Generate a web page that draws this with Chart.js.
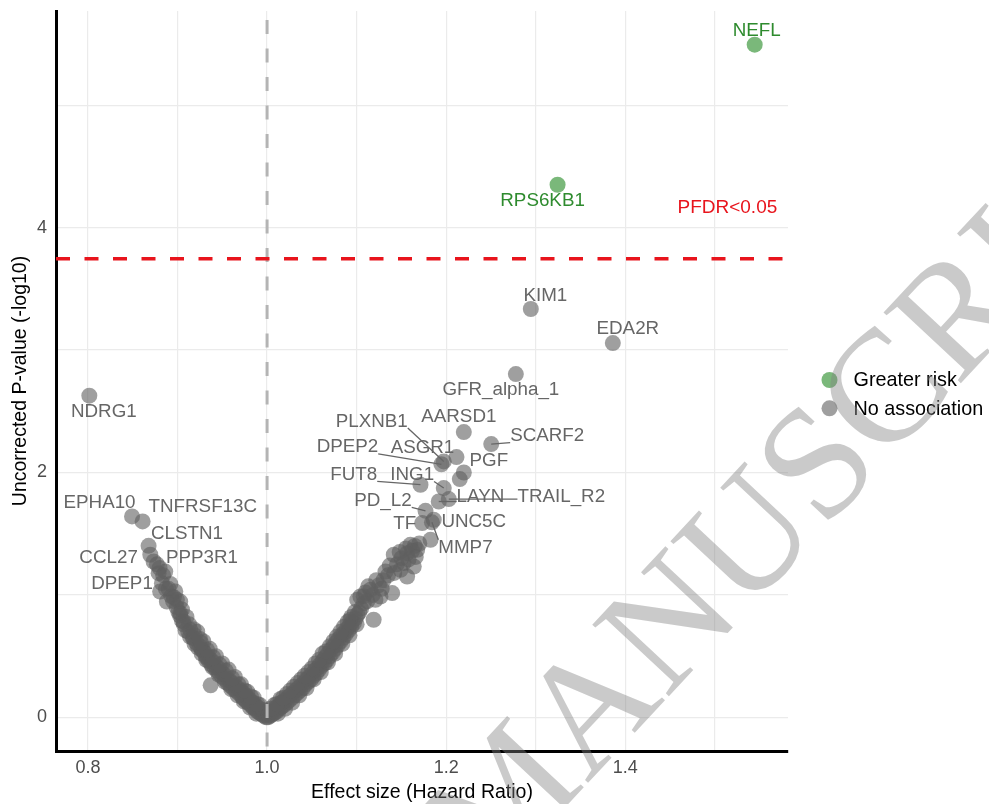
<!DOCTYPE html>
<html>
<head>
<meta charset="utf-8">
<script src="https://cdn.jsdelivr.net/npm/chart.js@4.4.1/dist/chart.umd.min.js"></script>
<style>
  html, body { margin: 0; padding: 0; background: #ffffff; }
  canvas { display: block; }
</style>
</head>
<body>
<canvas id="volcano" width="989" height="804"></canvas>
<script>
// ---- Proteins passing the FDR threshold (greater risk) ----
const riskGenes = ['NEFL', 'RPS6KB1'];
const riskHR    = [1.5445, 1.3244];
const riskLogP  = [5.494, 4.350];

// ---- Named proteins without a significant association ----
const namedGenes = ['KIM1', 'EDA2R', 'GFR_alpha_1', 'NDRG1', 'AARSD1', 'SCARF2', 'PLXNB1', 'DPEP2',
                    'ASGR1', 'PGF', 'FUT8', 'ING1', 'LAYN', 'TRAIL_R2', 'PD_L2', 'TF', 'UNC5C', 'MMP7',
                    'EPHA10', 'TNFRSF13C', 'CLSTN1', 'CCL27', 'PPP3R1', 'DPEP1'];
const namedHR    = [1.2945, 1.3861, 1.2778, 0.8015, 1.2197, 1.2503, 1.1973, 1.1947,
                    1.2115, 1.2197, 1.1713, 1.1973, 1.1917, 1.2029, 1.1769, 1.1732, 1.1861, 1.1841,
                    0.8492, 0.8610, 0.8677, 0.8696, 0.8733, 0.8789];
const namedLogP  = [3.335, 3.057, 2.804, 2.627, 2.330, 2.232, 2.090, 2.067,
                    2.126, 2.000, 1.900, 1.873, 1.763, 1.783, 1.687, 1.587, 1.614, 1.593,
                    1.641, 1.600, 1.401, 1.328, 1.273, 1.178];

// ---- Remaining (unlabelled) proteins: hazard ratio and -log10 p ----
const otherHR = [
  // lower-risk side
  0.999, 0.998, 0.997, 0.996, 0.995, 0.994, 0.993, 0.992, 0.991, 0.990,
  0.989, 0.988, 0.987, 0.986, 0.985, 0.984, 0.983, 0.982, 0.981, 0.980,
  0.979, 0.978, 0.977, 0.976, 0.975, 0.974, 0.973, 0.972, 0.971, 0.970,
  0.968, 0.967, 0.965, 0.964, 0.962, 0.961, 0.959, 0.958, 0.956, 0.955,
  0.953, 0.952, 0.950, 0.949, 0.947, 0.946, 0.944, 0.943, 0.941, 0.940,
  0.938, 0.937, 0.935, 0.934, 0.932, 0.930, 0.937, 0.928, 0.927, 0.925,
  0.923, 0.921, 0.919, 0.917, 0.914, 0.912, 0.909, 0.907, 0.905, 0.903,
  0.901, 0.899, 0.903, 0.8975, 0.895, 0.893, 0.8881, 0.890, 0.8863, 0.8806,
  0.8826, 0.8993, 0.9030, 0.9067, 0.9142, 0.9179, 0.9272, 0.9328, 0.877, 0.880,
  0.992, 0.985, 0.978, 0.971, 0.964, 0.957, 0.950, 0.943, 0.936, 0.929,
  0.922, 0.988, 0.981, 0.974, 0.967, 0.960, 0.953, 0.946, 0.939, 0.932,
  0.996, 0.989, 0.982, 0.975, 0.968, 0.961, 0.954, 0.947, 0.940, 0.933,
  0.926, 0.919, 0.884, 0.887, 0.892, 0.896, 0.905, 0.910, 0.913, 0.918,
  0.925,
  // higher-risk side
  1.001, 1.002, 1.003, 1.004, 1.005, 1.006, 1.007, 1.008, 1.009, 1.010,
  1.011, 1.012, 1.013, 1.014, 1.015, 1.016, 1.017, 1.018, 1.019, 1.020,
  1.022, 1.023, 1.025, 1.026, 1.028, 1.029, 1.031, 1.032, 1.034, 1.035,
  1.037, 1.038, 1.040, 1.041, 1.043, 1.044, 1.046, 1.047, 1.049, 1.050,
  1.052, 1.053, 1.055, 1.056, 1.058, 1.059, 1.061, 1.062, 1.064, 1.065,
  1.067, 1.068, 1.070, 1.071, 1.073, 1.074, 1.076, 1.077, 1.079, 1.080,
  1.082, 1.083, 1.085, 1.086, 1.088, 1.089, 1.091, 1.092, 1.094, 1.095,
  1.097, 1.099, 1.093, 1.101, 1.103, 1.119, 1.105, 1.1006, 1.1042, 1.108,
  1.112, 1.1154, 1.118, 1.121, 1.1266, 1.125, 1.130, 1.1397, 1.1322, 1.135,
  1.1415, 1.145, 1.149, 1.1564, 1.1526, 1.150, 1.1564, 1.1638, 1.155, 1.160,
  1.1676, 1.165, 1.170, 1.1825, 1.2152,
  1.008, 1.015, 1.022, 1.030, 1.038, 1.046, 1.054, 1.062, 1.070, 1.078,
  1.086, 1.094, 1.012, 1.020, 1.028, 1.036, 1.044, 1.052, 1.060, 1.068,
  1.076, 1.084, 1.092, 1.100,
  1.004, 1.011, 1.018, 1.026, 1.034, 1.042, 1.050, 1.058, 1.066, 1.074,
  1.082, 1.090, 1.098, 1.108, 1.113, 1.122, 1.128, 1.137, 1.142, 1.148,
  1.158, 1.162, 1.166, 1.110
];
const otherLogP = [
  // lower-risk side
  0.00, 0.02, 0.01, 0.04, 0.02, 0.05, 0.03, 0.06, 0.04, 0.08,
  0.05, 0.09, 0.07, 0.10, 0.08, 0.12, 0.09, 0.13, 0.11, 0.15,
  0.12, 0.16, 0.13, 0.18, 0.15, 0.19, 0.16, 0.21, 0.18, 0.22,
  0.20, 0.24, 0.22, 0.26, 0.24, 0.28, 0.26, 0.30, 0.28, 0.32,
  0.31, 0.35, 0.33, 0.37, 0.36, 0.40, 0.38, 0.42, 0.41, 0.45,
  0.43, 0.47, 0.46, 0.50, 0.49, 0.53, 0.262, 0.55, 0.52, 0.58,
  0.57, 0.61, 0.60, 0.65, 0.66, 0.70, 0.71, 0.76, 0.79, 0.83,
  0.86, 0.90, 0.946, 1.028, 0.95, 0.99, 0.946, 1.05, 1.191, 1.028,
  1.096, 0.960, 0.851, 0.783, 0.715, 0.647, 0.551, 0.497, 1.25, 1.22,
  0.10, 0.16, 0.21, 0.27, 0.33, 0.39, 0.44, 0.50, 0.56, 0.62,
  0.70, 0.03, 0.08, 0.13, 0.18, 0.23, 0.29, 0.35, 0.41, 0.47,
  0.06, 0.11, 0.17, 0.22, 0.27, 0.32, 0.38, 0.43, 0.49, 0.55,
  0.61, 0.67, 1.16, 1.05, 1.09, 0.98, 0.88, 0.82, 0.76, 0.72,
  0.64,
  // higher-risk side
  0.00, 0.02, 0.01, 0.04, 0.02, 0.05, 0.03, 0.06, 0.04, 0.08,
  0.05, 0.09, 0.07, 0.10, 0.08, 0.12, 0.09, 0.13, 0.10, 0.14,
  0.12, 0.16, 0.14, 0.18, 0.16, 0.20, 0.18, 0.22, 0.20, 0.24,
  0.22, 0.26, 0.24, 0.28, 0.27, 0.31, 0.29, 0.33, 0.31, 0.35,
  0.34, 0.38, 0.36, 0.40, 0.39, 0.43, 0.42, 0.46, 0.44, 0.49,
  0.47, 0.52, 0.50, 0.55, 0.53, 0.58, 0.56, 0.61, 0.59, 0.64,
  0.62, 0.67, 0.65, 0.69, 0.68, 0.72, 0.71, 0.75, 0.74, 0.78,
  0.77, 0.81, 0.797, 0.84, 0.86, 0.797, 0.89, 0.960, 0.987, 0.933,
  0.95, 1.042, 1.00, 0.96, 0.987, 1.08, 1.12, 1.015, 1.191, 1.16,
  1.328, 1.25, 1.205, 1.150, 1.260, 1.30, 1.341, 1.232, 1.38, 1.409,
  1.368, 1.40, 1.42, 1.450, 1.946,
  0.10, 0.15, 0.19, 0.25, 0.31, 0.37, 0.44, 0.52, 0.58, 0.66,
  0.74, 0.82, 0.03, 0.07, 0.12, 0.18, 0.24, 0.31, 0.37, 0.45,
  0.52, 0.60, 0.67, 0.76,
  0.07, 0.11, 0.16, 0.22, 0.28, 0.34, 0.40, 0.47, 0.54, 0.62,
  0.70, 0.78, 0.86, 0.99, 1.07, 1.12, 1.05, 1.24, 1.18, 1.35,
  1.29, 1.36, 1.31, 1.02
];

// ---- Axis ticks and reference lines ----
const xTickValues = [0.8, 0.9, 1.0, 1.1, 1.2, 1.3, 1.4, 1.5];
const xTickLabels = ['0.8', '1.0', '1.2', '1.4'];
const yTickValues = [0, 1, 2, 3, 4, 5];
const yTickLabels = ['0', '2', '4'];
const fdrCutoff = 3.746;      // -log10 p at which FDR-corrected p = 0.05
const nullHR = 1.0;
const fdrText = 'PFDR<0.05';
const fdrTextPos = [1.514, 4.163];
const legendNames = ['Greater risk', 'No association'];

// ---- Styling ----
const GREEN_FILL = 'rgba(40,140,40,0.62)';
const GREEN_TEXT = '#2e8b2e';
const GREY_FILL = 'rgba(95,95,95,0.6)';
const GREY_TEXT = '#666666';
const FONT = "'Liberation Sans', Arial, Helvetica, sans-serif";

// Label placement for each named protein: pixel offset of the text centre from the point, and
// whether a connector segment is drawn.
const labelPlacement = {
  NEFL: [2, -15, false], RPS6KB1: [-15, 15, false],
  KIM1: [14.5, -14.3, false], EDA2R: [15, -15, false], GFR_alpha_1: [-15, 15, false],
  NDRG1: [14.5, 15, false], AARSD1: [-5, -16.5, false], SCARF2: [56, -9, true],
  PLXNB1: [-72, -41, true], DPEP2: [-94, -18, true], ASGR1: [-34, -10.6, false],
  PGF: [25, -12.7, false], FUT8: [-66.7, -10.8, true], ING1: [-31.6, -14.1, true],
  LAYN: [41.7, -5.9, true], TRAIL_R2: [112.5, -3.5, true], PD_L2: [-42.5, -11, true],
  TF: [-17.5, 0, false], UNC5C: [40, 0.8, false], MMP7: [33.5, 25, true],
  EPHA10: [-32.5, -14.2, false], TNFRSF13C: [60.2, -15.9, false], CLSTN1: [38.4, -13.5, false],
  CCL27: [-41.7, 2.5, false], PPP3R1: [48.4, -4.2, false], DPEP1: [-36.6, 9.2, false]
};

const toPoints = (xs, ys) => xs.map((v, i) => ({ x: v, y: ys[i] }));

// Reference lines drawn over the points
const referenceLines = {
  id: 'referenceLines',
  afterDatasetsDraw(chart) {
    const { ctx, chartArea: a, scales: { x, y } } = chart;
    ctx.save();
    ctx.beginPath();
    ctx.rect(a.left, a.top, a.right - a.left, a.bottom - a.top);
    ctx.clip();
    // hazard ratio of 1
    const px = x.getPixelForValue(nullHR);
    ctx.setLineDash([14, 14.5]);
    ctx.strokeStyle = '#b4b4b4';
    ctx.lineWidth = 3;
    ctx.beginPath();
    ctx.moveTo(px, a.top + 9);
    ctx.lineTo(px, a.bottom);
    ctx.stroke();
    // FDR threshold
    const py = y.getPixelForValue(fdrCutoff);
    ctx.strokeStyle = '#e8141c';
    ctx.lineWidth = 3.5;
    ctx.beginPath();
    ctx.moveTo(a.left, py);
    ctx.lineTo(a.right, py);
    ctx.stroke();
    ctx.restore();

    ctx.save();
    ctx.font = `19px ${FONT}`;
    ctx.fillStyle = '#e8141c';
    ctx.textAlign = 'center';
    ctx.textBaseline = 'middle';
    ctx.fillText(fdrText, x.getPixelForValue(fdrTextPos[0]), y.getPixelForValue(fdrTextPos[1]));
    ctx.restore();
  }
};

// Protein name labels with connector segments
const geneLabels = {
  id: 'geneLabels',
  afterDatasetsDraw(chart) {
    const { ctx, scales: { x, y } } = chart;
    const items = [];
    riskGenes.forEach((g, i) => items.push({ g, hx: riskHR[i], hy: riskLogP[i], color: GREEN_TEXT }));
    namedGenes.forEach((g, i) => items.push({ g, hx: namedHR[i], hy: namedLogP[i], color: GREY_TEXT }));
    ctx.save();
    ctx.font = `18.8px ${FONT}`;
    ctx.textAlign = 'center';
    ctx.textBaseline = 'middle';
    const boxes = items.map(it => {
      const [dx, dy, seg] = labelPlacement[it.g];
      const px = x.getPixelForValue(it.hx);
      const py = y.getPixelForValue(it.hy);
      const w = ctx.measureText(it.g).width;
      return { ...it, px, py, cx: px + dx, cy: py + dy, w, h: 15, seg };
    });
    // segments first, names on top
    ctx.lineWidth = 1.3;
    boxes.forEach(b => {
      if (!b.seg) return;
      const ex = Math.max(b.cx - b.w / 2, Math.min(b.px, b.cx + b.w / 2));
      const ey = Math.max(b.cy - b.h / 2, Math.min(b.py, b.cy + b.h / 2));
      ctx.strokeStyle = b.color;
      ctx.beginPath();
      ctx.moveTo(b.px, b.py);
      ctx.lineTo(ex, ey);
      ctx.stroke();
    });
    boxes.forEach(b => {
      ctx.fillStyle = b.color;
      ctx.fillText(b.g, b.cx, b.cy + 1);
    });
    ctx.restore();
  }
};

// Legend on the right
const sideLegend = {
  id: 'sideLegend',
  afterDraw(chart) {
    const { ctx, chartArea: a } = chart;
    const fills = [GREEN_FILL, GREY_FILL];
    const cx = a.right + 41.5;
    const y0 = 380;
    ctx.save();
    ctx.font = `19.8px ${FONT}`;
    ctx.textBaseline = 'middle';
    ctx.textAlign = 'left';
    legendNames.forEach((name, i) => {
      const cy = y0 + i * 28.3;
      ctx.fillStyle = fills[i];
      ctx.beginPath();
      ctx.arc(cx, cy, 8, 0, Math.PI * 2);
      ctx.fill();
      ctx.fillStyle = '#000000';
      ctx.fillText(name, cx + 24, cy + 1);
    });
    ctx.restore();
  }
};

// Journal watermark across the figure
const watermark = {
  id: 'watermark',
  afterDraw(chart) {
    const { ctx } = chart;
    const text = 'ACCEPTED MANUSCRIPT';
    ctx.save();
    ctx.font = `160px 'Liberation Serif', 'Times New Roman', serif`;
    const lead = ctx.measureText('ACCEPTED ').width;
    ctx.translate(490, 888);
    ctx.rotate(-47 * Math.PI / 180);
    ctx.fillStyle = 'rgba(128,128,128,0.42)';
    ctx.textBaseline = 'alphabetic';
    ctx.textAlign = 'left';
    ctx.fillText(text, -lead, 0);
    ctx.restore();
  }
};

Chart.defaults.font.family = FONT;

const fmt = (v, d) => Number(v).toFixed(d);

new Chart(document.getElementById('volcano'), {
  type: 'scatter',
  data: {
    datasets: [
      {
        label: legendNames[1],
        data: toPoints(namedHR, namedLogP).concat(toPoints(otherHR, otherLogP)),
        backgroundColor: GREY_FILL,
        borderWidth: 0,
        pointRadius: 8,
        pointHoverRadius: 8
      },
      {
        label: legendNames[0],
        data: toPoints(riskHR, riskLogP),
        backgroundColor: GREEN_FILL,
        borderWidth: 0,
        pointRadius: 8,
        pointHoverRadius: 8
      }
    ]
  },
  options: {
    responsive: false,
    animation: false,
    events: [],
    layout: { padding: { top: 11, right: 201, bottom: 0, left: 0 } },
    plugins: {
      legend: { display: false },
      tooltip: { enabled: false }
    },
    scales: {
      x: {
        type: 'linear',
        min: 0.7643,
        max: 1.5817,
        afterBuildTicks: s => { s.ticks = xTickValues.map(v => ({ value: v })); },
        afterFit: s => { s.height = 53; s.paddingLeft = 0; s.paddingRight = 0; },
        ticks: {
          autoSkip: false,
          maxRotation: 0,
          padding: 6,
          color: '#4d4d4d',
          font: { size: 18 },
          callback: v => (xTickLabels.includes(fmt(v, 1)) ? fmt(v, 1) : '')
        },
        grid: { color: '#ebebeb', lineWidth: 1.2, drawTicks: false },
        border: { display: true, color: '#000000', width: 3 },
        title: {
          display: true,
          text: 'Effect size (Hazard Ratio)',
          color: '#000000',
          font: { size: 19.5 },
          padding: { top: 0, bottom: 0 }
        }
      },
      y: {
        type: 'linear',
        min: -0.2747,
        max: 5.769,
        afterBuildTicks: s => { s.ticks = yTickValues.map(v => ({ value: v })); },
        afterFit: s => { s.width = 56; s.paddingTop = 0; s.paddingBottom = 0; },
        ticks: {
          autoSkip: false,
          padding: 9,
          color: '#4d4d4d',
          font: { size: 18 },
          callback: v => (yTickLabels.includes(fmt(v, 0)) ? fmt(v, 0) : '')
        },
        grid: { color: '#ebebeb', lineWidth: 1.2, drawTicks: false },
        border: { display: true, color: '#000000', width: 3 },
        title: {
          display: true,
          text: 'Uncorrected P-value (-log10)',
          color: '#000000',
          font: { size: 19.5 },
          padding: { top: 9, bottom: 0 }
        }
      }
    }
  },
  plugins: [referenceLines, geneLabels, sideLegend, watermark]
});
</script>
</body>
</html>
